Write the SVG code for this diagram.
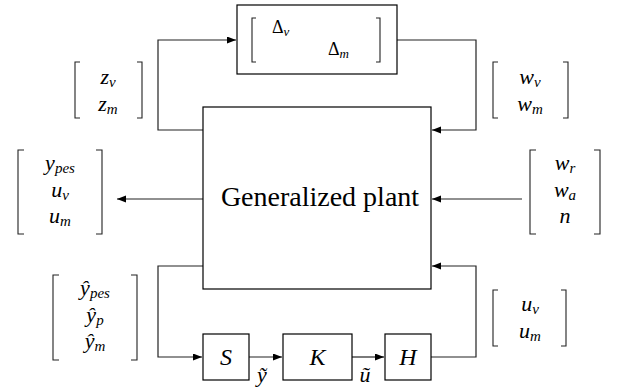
<svg xmlns="http://www.w3.org/2000/svg" width="617" height="390" viewBox="0 0 617 390">
<style>
.box{fill:#fff;stroke:#000;stroke-width:1.2}
.br{fill:none;stroke:#222;stroke-width:1.1}
</style>
<defs>
<marker id="ah" markerUnits="userSpaceOnUse" markerWidth="10" markerHeight="8" refX="9" refY="3.5" orient="auto">
<path d="M0,0 L9,3.5 L0,7 z" fill="#000"/>
</marker>
</defs>
<rect width="617" height="390" fill="#fff"/>
<g id="connectors" fill="none" stroke="#222" stroke-width="1.2">
<path d="M203,130 H158 V40 H236" marker-end="url(#ah)"/>
<path d="M397,40 H476 V130 H432" marker-end="url(#ah)"/>
<path d="M203,199 H117" marker-end="url(#ah)"/>
<path d="M522,199 H432" marker-end="url(#ah)"/>
<path d="M203,266 H158 V357 H202" marker-end="url(#ah)"/>
<path d="M249,357 H282" marker-end="url(#ah)"/>
<path d="M352,357 H384" marker-end="url(#ah)"/>
<path d="M431,357 H476 V266 H432" marker-end="url(#ah)"/>
</g>
<g id="delta">
<rect class="box" x="237" y="5" width="160" height="69"/>
<path class="br" d="M256,18 H252 V62 H256 M376,18 H380 V62 H376"/>
<text style="font-family:'Liberation Serif',serif !important" font-size="18" x="272" y="33">Δ<tspan style="font-family:'Liberation Serif',serif !important" font-style="italic" font-size="13" dy="3">v</tspan></text>
<text style="font-family:'Liberation Serif',serif !important" font-size="18" x="328" y="55">Δ<tspan style="font-family:'Liberation Serif',serif !important" font-style="italic" font-size="13" dy="3">m</tspan></text>
</g>
<g id="plant">
<rect class="box" x="203" y="107" width="228" height="182"/>
<text style="font-family:'Liberation Serif',serif !important" font-size="28" text-anchor="middle" x="320" y="206">Generalized plant</text>
</g>
<g id="S"><rect class="box" x="203" y="334" width="46" height="46"/><text style="font-family:'Liberation Serif',serif !important" font-style="italic" font-size="24" text-anchor="middle" x="226" y="365">S</text></g>
<g id="K"><rect class="box" x="283" y="334" width="69" height="46"/><text style="font-family:'Liberation Serif',serif !important" font-style="italic" font-size="24" text-anchor="middle" x="317.5" y="365">K</text></g>
<g id="H"><rect class="box" x="385" y="334" width="46" height="46"/><text style="font-family:'Liberation Serif',serif !important" font-style="italic" font-size="24" text-anchor="middle" x="408" y="365">H</text></g>
<g id="ytilde"><text style="font-family:'Liberation Serif',serif !important" font-style="italic" font-size="22" text-anchor="middle" x="262" y="382">ỹ</text></g>
<g id="utilde"><text style="font-family:'Liberation Serif',serif !important" font-style="italic" font-size="22" text-anchor="middle" x="365" y="382">ũ</text></g>
<g id="z-vec">
<path class="br" d="M80,62 H75 V118 H80 M137,62 H142 V118 H137"/>
<text style="font-family:'Liberation Serif',serif !important" font-style="italic" font-size="22" text-anchor="middle" x="108" y="84">z<tspan style="font-family:'Liberation Serif',serif !important" font-size="15" dy="3">v</tspan></text>
<text style="font-family:'Liberation Serif',serif !important" font-style="italic" font-size="22" text-anchor="middle" x="108" y="111">z<tspan style="font-family:'Liberation Serif',serif !important" font-size="15" dy="3">m</tspan></text>
</g>
<g id="w-vec">
<path class="br" d="M498,62 H493 V118 H498 M563,62 H568 V118 H563"/>
<text style="font-family:'Liberation Serif',serif !important" font-style="italic" font-size="22" text-anchor="middle" x="530" y="84">w<tspan style="font-family:'Liberation Serif',serif !important" font-size="15" dy="3">v</tspan></text>
<text style="font-family:'Liberation Serif',serif !important" font-style="italic" font-size="22" text-anchor="middle" x="530" y="111">w<tspan style="font-family:'Liberation Serif',serif !important" font-size="15" dy="3">m</tspan></text>
</g>
<g id="out-vec">
<path class="br" d="M24,150 H18 V234 H24 M96,150 H102 V234 H96"/>
<text style="font-family:'Liberation Serif',serif !important" font-style="italic" font-size="22" text-anchor="middle" x="60" y="170">y<tspan style="font-family:'Liberation Serif',serif !important" font-size="15" dy="3">pes</tspan></text>
<text style="font-family:'Liberation Serif',serif !important" font-style="italic" font-size="22" text-anchor="middle" x="60" y="197">u<tspan style="font-family:'Liberation Serif',serif !important" font-size="15" dy="3">v</tspan></text>
<text style="font-family:'Liberation Serif',serif !important" font-style="italic" font-size="22" text-anchor="middle" x="60" y="223">u<tspan style="font-family:'Liberation Serif',serif !important" font-size="15" dy="3">m</tspan></text>
</g>
<g id="in-vec">
<path class="br" d="M536,150 H530 V234 H536 M594,150 H600 V234 H594"/>
<text style="font-family:'Liberation Serif',serif !important" font-style="italic" font-size="22" text-anchor="middle" x="565" y="170">w<tspan style="font-family:'Liberation Serif',serif !important" font-size="15" dy="3">r</tspan></text>
<text style="font-family:'Liberation Serif',serif !important" font-style="italic" font-size="22" text-anchor="middle" x="565" y="197">w<tspan style="font-family:'Liberation Serif',serif !important" font-size="15" dy="3">a</tspan></text>
<text style="font-family:'Liberation Serif',serif !important" font-style="italic" font-size="22" text-anchor="middle" x="565" y="223">n</text>
</g>
<g id="yhat-vec">
<path class="br" d="M59,275 H53 V360 H59 M131,275 H137 V360 H131"/>
<text style="font-family:'Liberation Serif',serif !important" font-style="italic" font-size="22" text-anchor="middle" x="95" y="295">ŷ<tspan style="font-family:'Liberation Serif',serif !important" font-size="15" dy="3">pes</tspan></text>
<text style="font-family:'Liberation Serif',serif !important" font-style="italic" font-size="22" text-anchor="middle" x="95" y="322">ŷ<tspan style="font-family:'Liberation Serif',serif !important" font-size="15" dy="3">p</tspan></text>
<text style="font-family:'Liberation Serif',serif !important" font-style="italic" font-size="22" text-anchor="middle" x="95" y="348">ŷ<tspan style="font-family:'Liberation Serif',serif !important" font-size="15" dy="3">m</tspan></text>
</g>
<g id="u-vec">
<path class="br" d="M498,290 H493 V346 H498 M561,290 H566 V346 H561"/>
<text style="font-family:'Liberation Serif',serif !important" font-style="italic" font-size="22" text-anchor="middle" x="530" y="311">u<tspan style="font-family:'Liberation Serif',serif !important" font-size="15" dy="3">v</tspan></text>
<text style="font-family:'Liberation Serif',serif !important" font-style="italic" font-size="22" text-anchor="middle" x="530" y="338">u<tspan style="font-family:'Liberation Serif',serif !important" font-size="15" dy="3">m</tspan></text>
</g>
</svg>
